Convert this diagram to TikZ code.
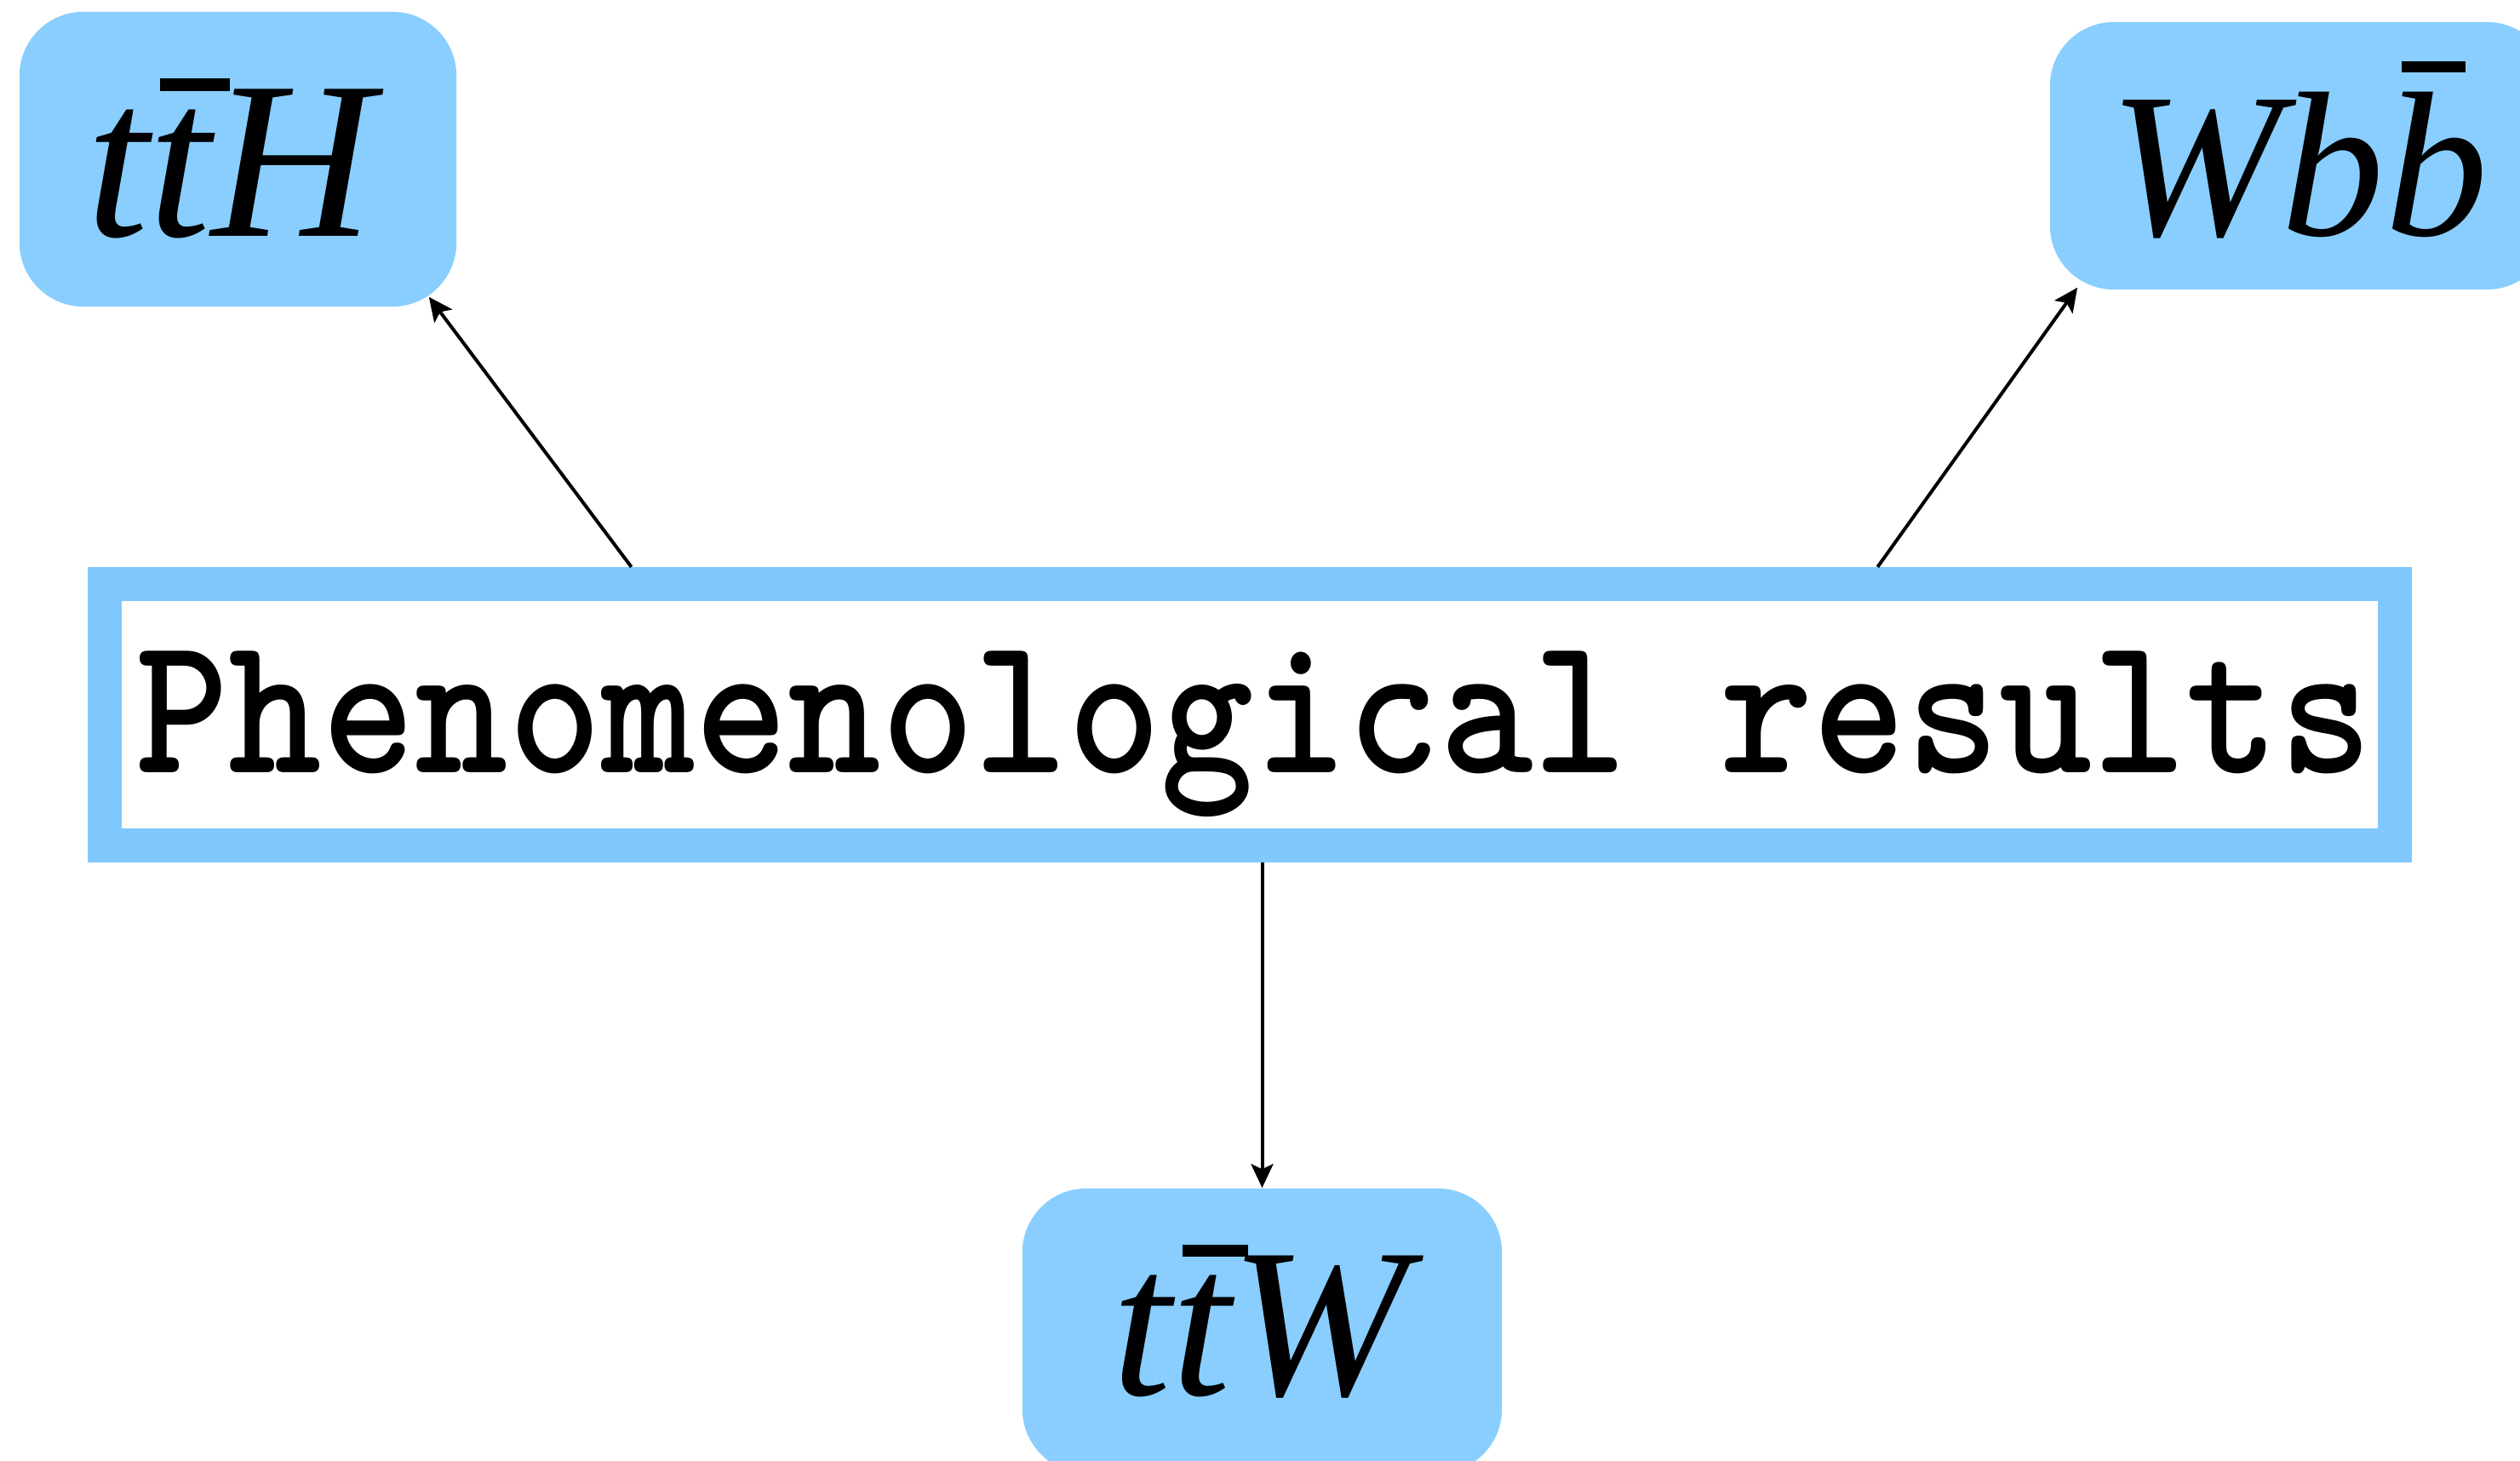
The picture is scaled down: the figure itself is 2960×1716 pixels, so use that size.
\documentclass[tikz,border=0pt]{standalone}
\usepackage{fontspec}
\newfontfamily\tim{Liberation Serif}
\usetikzlibrary{arrows.meta}
\definecolor{boxblue}{RGB}{137,206,254}
\definecolor{frameblue}{RGB}{128,200,253}
\newcommand\barred[4]{\leavevmode\rlap{\kern#4\raisebox{#2}{\rule{#3}{0.055em}}}#1}
\tikzset{
  x=0.01cm, y=-0.01cm,
  procbox/.style={fill=boxblue, draw=none, rounded corners=0.75cm, inner sep=0pt},
  mathlbl/.style={anchor=base, inner sep=0pt, font=\tim\itshape},
  arr/.style={line width=0.04cm, -{Stealth[length=0.28cm, width=0.26cm, inset=0.06cm]}},
}
\begin{document}
\begin{tikzpicture}
\useasboundingbox (0,0) rectangle (2960,1716);
\clip (0,0) rectangle (2960,1716);
% boxes
\node[procbox, minimum width=5.13cm, minimum height=3.46cm] (tth) at (279.5,187) {};
\node[procbox, minimum width=5.88cm, minimum height=3.14cm] (wbb) at (2702,183) {};
\node[procbox, minimum width=5.63cm, minimum height=3.34cm] (ttw) at (1482.5,1563) {};
\node[draw=frameblue, line width=0.4cm, fill=white, minimum width=26.88cm, minimum height=3.07cm, inner sep=0pt] (main) at (1468,839.5) {};
% labels
\node[mathlbl, font=\tim\itshape\fontsize{75pt}{80pt}\selectfont] (tthl) at (270,278) {t\barred{t}{0.65em}{0.31em}{0.05em}H};
\node[mathlbl, font=\tim\itshape\fontsize{69pt}{76pt}\selectfont] (wbbl) at (2700,277) {Wb\barred{b}{0.79em}{0.31em}{0.08em}};
\node[mathlbl, font=\tim\itshape\fontsize{71pt}{78pt}\selectfont] (ttwl) at (1480,1638) {t\barred{t}{0.65em}{0.31em}{0.05em}W};
\node[anchor=base, inner sep=0pt] (mainl) at (1473,908) {\scalebox{1}[1.12]{\ttfamily\bfseries\fontsize{59.3pt}{66pt}\selectfont Phenomenological results}};
% connectors
\draw[arr] ([xshift=-7.26cm]main.north) -- ([xshift=-0.33cm,yshift=0.12cm]tth.south east);
\draw[arr] ([xshift=7.37cm]main.north) -- ([xshift=0.33cm,yshift=0.03cm]wbb.south west);
\draw[arr] (main.south -| ttw.north) -- (ttw.north);
\end{tikzpicture}
\end{document}
